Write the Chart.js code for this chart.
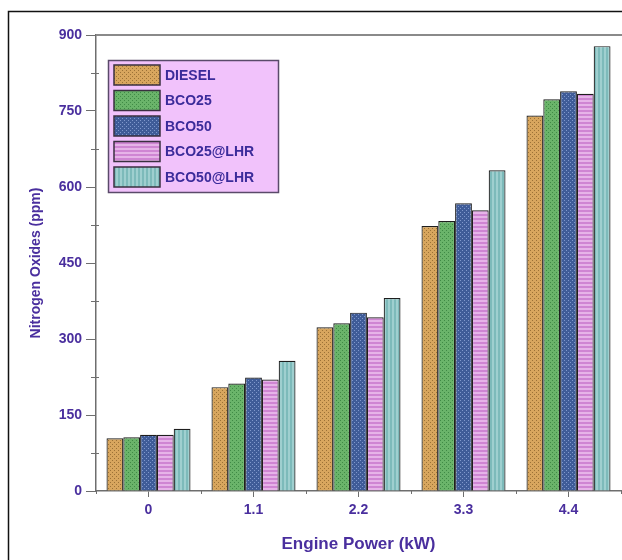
<!DOCTYPE html>
<html>
<head>
<meta charset="utf-8">
<script src="https://cdn.jsdelivr.net/npm/chart.js@4.4.1/dist/chart.umd.min.js"></script>
<style>
html,body{margin:0;padding:0;background:#fff;}
#wrap{width:622px;height:560px;position:relative;}
</style>
</head>
<body>
<div id="wrap"><canvas id="c" width="622" height="560"></canvas></div>
<script>
const categories = ['0', '1.1', '2.2', '3.3', '4.4'];
const seriesNames = ['DIESEL', 'BCO25', 'BCO50', 'BCO25@LHR', 'BCO50@LHR'];
const diesel   = [104, 205, 323, 523, 741];
const bco25    = [106, 212, 331, 533, 773];
const bco50    = [111, 224, 352, 568, 789];
const bco25lhr = [111, 220, 343, 554, 784];
const bco50lhr = [123, 257, 381, 633, 878];
const yTicks = [0, 150, 300, 450, 600, 750, 900];

const TEXT = '#4a2f9e';
const AXIS = '#6e6e6e';
const FONT = '"Liberation Sans", Arial, sans-serif';

function makePattern(type, base, fg) {
  const c = document.createElement('canvas');
  const s = 4;
  c.width = s; c.height = s;
  const g = c.getContext('2d');
  g.fillStyle = base; g.fillRect(0, 0, s, s);
  g.fillStyle = fg;
  if (type === 'dots') { g.fillRect(0, 0, 1, 1); g.fillRect(2, 2, 1, 1); }
  else if (type === 'h') { g.fillRect(0, 0, s, 2); }
  else if (type === 'v') { g.fillRect(0, 0, 2, s); }
  return document.getElementById('c').getContext('2d').createPattern(c, 'repeat');
}

const fills = [
  makePattern('dots', '#d8a65e', '#9c7236'),
  makePattern('dots', '#6ab46a', '#3f8a45'),
  makePattern('dots', '#3f5c98', '#8098cc'),
  makePattern('h', '#cf85d3', '#e6b3e8'),
  makePattern('v', '#7dbaba', '#9fcfcf')
];
const allData = [diesel, bco25, bco50, bco25lhr, bco50lhr];

const datasets = seriesNames.map((n, i) => ({
  label: n,
  data: allData[i],
  backgroundColor: fills[i],
  borderColor: '#1e1e1e',
  borderWidth: 1.2,
  categoryPercentage: 0.8,
  barPercentage: 1.0
}));

const decor = {
  id: 'decor',
  afterDraw(chart) {
    const ctx = chart.ctx;
    const a = chart.chartArea;
    const ys = chart.scales.y, xs = chart.scales.x;
    ctx.save();
    // outer frame
    ctx.strokeStyle = '#111';
    ctx.lineWidth = 1.5;
    ctx.strokeRect(8.5, 11.5, 700, 700);
    // top border of plot
    ctx.strokeStyle = '#8a8a8a';
    ctx.lineWidth = 2;
    ctx.beginPath(); ctx.moveTo(a.left, a.top); ctx.lineTo(a.right + 5, a.top); ctx.stroke();
    // minor y ticks
    ctx.strokeStyle = AXIS; ctx.lineWidth = 1;
    for (let v = 75; v < 900; v += 150) {
      const y = Math.round(ys.getPixelForValue(v)) + 0.5;
      ctx.beginPath(); ctx.moveTo(a.left - 5, y); ctx.lineTo(a.left + 3, y); ctx.stroke();
    }
    // minor x ticks at category boundaries
    for (let i = 0; i <= categories.length; i++) {
      const x = Math.round(xs.getPixelForValue(i - 0.5)) + 0.5;
      ctx.beginPath(); ctx.moveTo(x, a.bottom); ctx.lineTo(x, a.bottom + 3); ctx.stroke();
    }
    // legend
    const lx = 108, ly = 60, lw = 170, lh = 132;
    ctx.fillStyle = '#f1c2fb';
    ctx.fillRect(lx, ly, lw, lh);
    ctx.strokeStyle = '#5a4a6a'; ctx.lineWidth = 1.5;
    ctx.strokeRect(lx + 0.5, ly + 0.5, lw, lh);
    ctx.font = 'bold 14px ' + FONT;
    ctx.textBaseline = 'middle';
    chart.data.datasets.forEach((ds, i) => {
      const cy = ly + 15 + i * 25.5;
      ctx.fillStyle = ds.backgroundColor;
      ctx.fillRect(lx + 6, cy - 10, 46, 20);
      ctx.strokeStyle = '#3a3040'; ctx.lineWidth = 1.5;
      ctx.strokeRect(lx + 6, cy - 10, 46, 20);
      ctx.fillStyle = '#3b2b9a';
      ctx.fillText(ds.label, lx + 57, cy + 1);
    });
    ctx.restore();
  }
};

new Chart(document.getElementById('c'), {
  type: 'bar',
  data: { labels: categories, datasets },
  options: {
    responsive: false,
    animation: false,
    layout: { padding: { left: 18, top: 35, right: 1, bottom: 0 } },
    plugins: { legend: { display: false }, tooltip: { enabled: false } },
    scales: {
      x: {
        offset: true,
        grid: { display: true, drawOnChartArea: false, offset: false, color: AXIS, tickLength: 6, tickWidth: 1 },
        border: { display: true, color: AXIS, width: 1.5 },
        ticks: { color: TEXT, font: { family: FONT, size: 14, weight: 'bold' }, padding: 5 },
        title: { display: true, text: 'Engine Power (kW)', color: TEXT, font: { family: FONT, size: 17, weight: 'bold' }, padding: { top: 4, bottom: 5 } },
        afterFit(s) { s.height = 69; }
      },
      y: {
        min: 0, max: 900,
        afterBuildTicks(s) { s.ticks = yTicks.map(v => ({ value: v })); },
        grid: { display: true, drawOnChartArea: false, color: AXIS, tickLength: 10, tickWidth: 1 },
        border: { display: true, color: AXIS, width: 1.5 },
        ticks: { color: TEXT, font: { family: FONT, size: 14, weight: 'bold' }, padding: 4 },
        title: { display: true, text: 'Nitrogen Oxides (ppm)', color: TEXT, font: { family: FONT, size: 14, weight: 'bold' }, padding: { top: 10, bottom: 0 } },
        afterFit(s) { s.width = 78; }
      }
    }
  },
  plugins: [decor]
});
</script>
</body>
</html>
